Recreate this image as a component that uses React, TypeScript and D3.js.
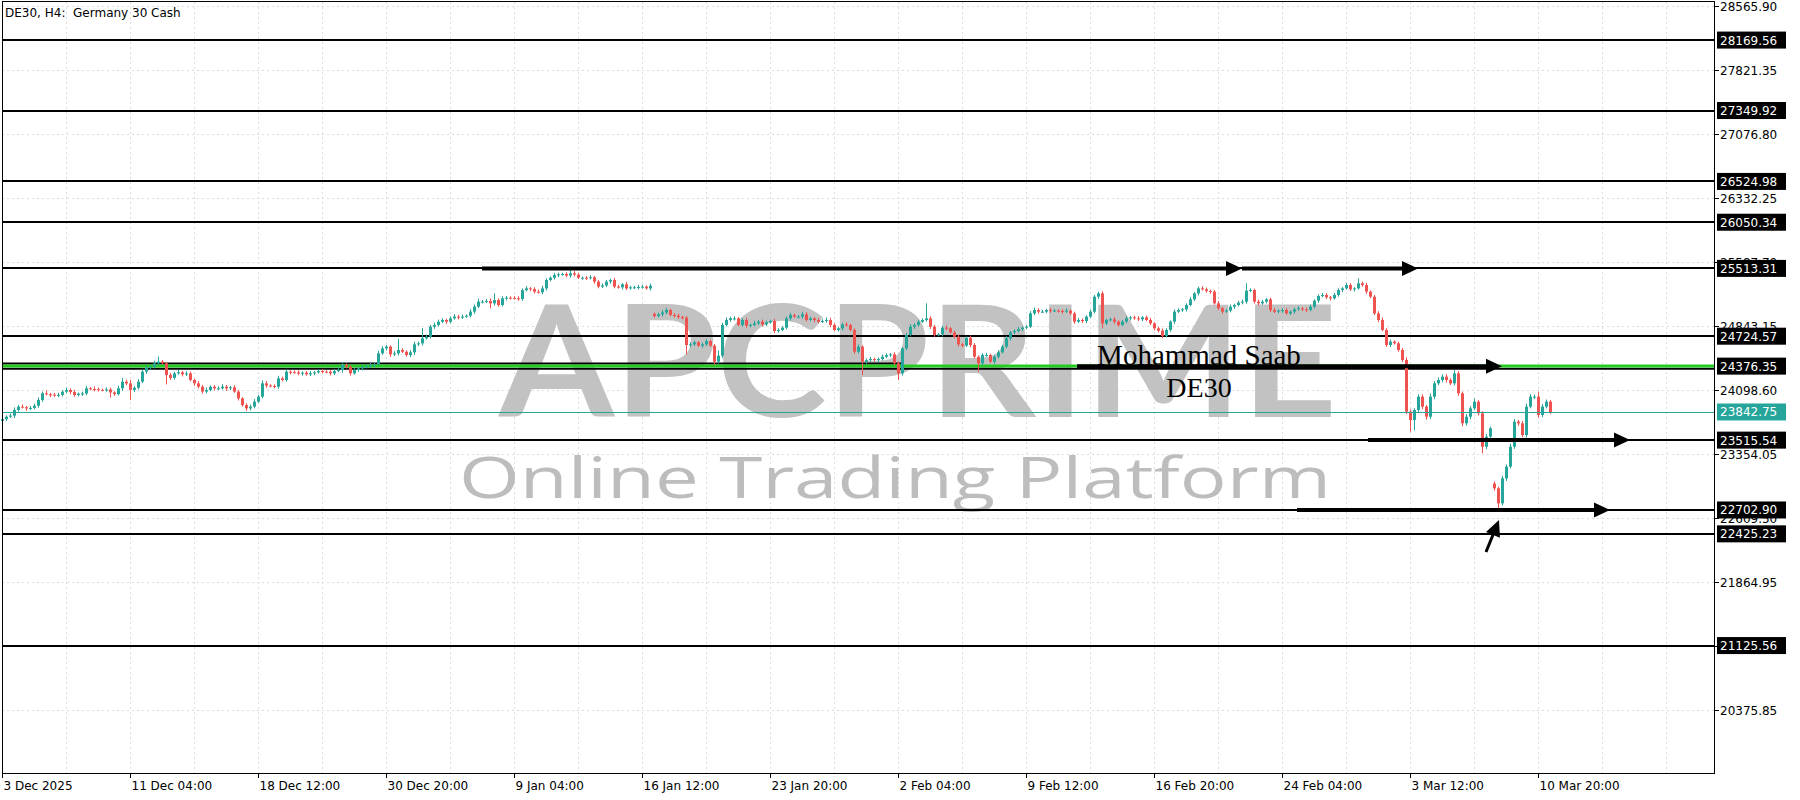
import React, { useEffect, useRef } from 'react'
import * as d3 from 'd3'

// H4 closes, 3 Dec 2025 -> 11 Mar 2026 (one value per bar)
const closesA = [
  23760, 23788, 23800, 23866, 23905, 23898, 23885, 23890, 23916, 23982,
  24060, 24050, 24045, 24040, 24042, 24079, 24098, 24075, 24040, 24055,
  24058, 24118, 24110, 24108, 24100, 24098, 24105, 24070, 24050, 24118,
  24195, 24175, 24100, 24125, 24195, 24312, 24358, 24366, 24409, 24428,
  24410, 24273, 24240, 24292, 24304, 24281, 24292, 24215, 24176, 24137,
  24080, 24098, 24137, 24118, 24118, 24137, 24118, 24130, 24080, 24001,
  23924, 23885, 23905, 23963, 24021, 24176, 24150, 24145, 24137, 24234,
  24215, 24312, 24305, 24304, 24290, 24300, 24281, 24295, 24304, 24319,
  24312, 24310, 24292, 24319, 24331, 24389, 24370, 24292, 24331, 24350,
  24366, 24375, 24389, 24397, 24525, 24583, 24603, 24513, 24525, 24564,
  24544, 24506, 24537, 24630, 24641, 24700, 24719, 24835, 24855, 24893,
  24913, 24893, 24932, 24952, 24945, 24952, 24963, 25010, 25068, 25126,
  25126, 25134, 25107, 25145, 25087, 25165, 25173, 25170, 25165, 25157
]
const closesB = [
  25260, 25281, 25273, 25242, 25235, 25281, 25378, 25405, 25436, 25444,
  25448, 25429, 25456, 25440, 25405, 25405, 25400, 25410, 25359, 25301,
  25315, 25359, 25378, 25301, 25293, 25328, 25281, 25293, 25293, 25297,
  25301, 25281, 25312, 24959, 24979, 25000, 25029, 24971, 24963, 24948,
  24940, 24622, 24630, 24653, 24614, 24630, 24668, 24614, 24428, 24498,
  24855, 24913, 24932, 24932, 24855, 24913, 24847, 24855, 24874, 24893,
  24862, 24886, 24901, 24785, 24797, 24824, 24932, 24971, 24952, 24952,
  24979, 24913, 24932, 24913, 24893, 24901, 24913, 24855, 24797, 24816,
  24862, 24855, 24797, 24544, 24603, 24428, 24447, 24459, 24447, 24459,
  24486, 24506, 24513, 24409, 24292, 24583, 24738, 24835, 24855, 24893,
  24913, 24932, 24835, 24738, 24746, 24824, 24816, 24769, 24719, 24630,
  24614, 24707, 24622, 24486, 24409, 24506, 24506, 24428, 24486, 24537,
  24603, 24700, 24769, 24785, 24808, 24824, 24835, 24990, 25029, 25010
]
const closesC = [
  25010, 25029, 25020, 25022, 25018, 25010, 25022, 24990, 24894, 24913,
  24900, 24952, 25010, 25184, 25223, 24874, 24913, 24921, 24894, 24855,
  24894, 24932, 24944, 24932, 24921, 24944, 24913, 24874, 24816, 24789,
  24727, 24797, 24894, 25010, 25029, 25037, 25087, 25153, 25223, 25281,
  25270, 25250, 25243, 25107, 25049, 25010, 25022, 25068, 25087, 25115,
  25126, 25254, 25262, 25126, 25107, 25126, 25153, 25029, 25010, 25022,
  25029, 24990, 25010, 25037, 25049, 25037, 25029, 25068, 25138, 25192,
  25204, 25177, 25165, 25204, 25262, 25281, 25320, 25270, 25281, 25340,
  25320, 25243, 25184, 24990, 24913, 24797, 24622, 24661, 24642, 24564,
  24448, 23847, 23750, 23866, 24021, 23905, 23788, 24021, 24176, 24215,
  24254, 24215, 24176, 24292, 24060, 23711, 23788, 23885, 23963, 23827,
  23439, 23556, 23653, 22955, 22780, 23071, 23207, 23439, 23730, 23711,
  23575, 23905, 24021, 24021, 23808, 23905, 23963, 23843
]

// upper / lower wick length in points, per bar
const wickUpA = [
  20, 15, 25, 30, 20, 25, 15, 20, 25, 30, 20, 35, 15, 20, 25, 15, 30, 20, 25, 15,
  20, 25, 15, 30, 20, 15, 25, 20, 15, 30, 45, 25, 40, 20, 30, 25, 20, 15, 30, 60,
  20, 15, 25, 20, 30, 15, 25, 20, 15, 25, 20, 30, 15, 20, 25, 30, 20, 15, 25, 20,
  15, 20, 25, 30, 20, 35, 25, 15, 20, 30, 20, 25, 15, 20, 25, 15, 20, 25, 15, 20,
  25, 15, 20, 25, 30, 35, 20, 15, 25, 20, 15, 20, 25, 15, 30, 25, 20, 15, 25, 130,
  20, 15, 25, 30, 20, 120, 25, 20, 30, 25, 20, 15, 25, 30, 20, 25, 15, 30, 25, 35,
  20, 25, 30, 80, 20, 25, 20, 15, 20, 25
]
const wickDnA = [
  40, 20, 15, 25, 20, 15, 30, 20, 15, 25, 20, 15, 30, 20, 25, 20, 15, 25, 20, 15,
  25, 20, 15, 25, 20, 15, 20, 60, 20, 15, 25, 20, 120, 25, 20, 15, 25, 20, 15, 20,
  15, 110, 25, 20, 15, 25, 20, 15, 30, 20, 25, 20, 15, 25, 20, 15, 30, 20, 15, 25,
  20, 30, 25, 20, 15, 20, 25, 15, 20, 25, 15, 20, 25, 15, 20, 25, 15, 20, 25, 15,
  20, 15, 25, 20, 15, 30, 20, 25, 15, 20, 25, 15, 20, 25, 15, 20, 25, 30, 20, 25,
  15, 20, 25, 30, 20, 25, 15, 20, 25, 20, 15, 25, 20, 15, 25, 20, 15, 20, 25, 15,
  20, 15, 60, 25, 20, 15, 25, 20, 15, 20
]
const wickUpB = [
  20, 25, 15, 20, 25, 30, 20, 15, 25, 20, 15, 20, 40, 25, 20, 15, 20, 25, 15, 20,
  25, 20, 15, 25, 20, 15, 30, 20, 15, 25, 20, 15, 25, 15, 20, 30, 25, 15, 20, 25,
  15, 20, 25, 20, 15, 20, 25, 15, 20, 60, 25, 30, 20, 25, 15, 20, 25, 15, 30, 20,
  25, 20, 15, 25, 20, 15, 20, 25, 15, 20, 30, 25, 20, 15, 25, 20, 30, 25, 20, 15,
  20, 25, 15, 20, 25, 15, 20, 25, 15, 20, 25, 20, 15, 25, 20, 15, 25, 30, 20, 25,
  20, 175, 25, 20, 15, 20, 25, 15, 20, 25, 20, 15, 25, 20, 15, 20, 25, 15, 20, 25,
  20, 25, 15, 20, 25, 15, 20, 25, 30, 20
]
const wickDnB = [
  20, 15, 25, 20, 15, 20, 25, 15, 20, 25, 15, 20, 25, 20, 15, 25, 20, 15, 25, 20,
  15, 20, 25, 20, 15, 25, 20, 15, 20, 25, 20, 15, 25, 20, 15, 25, 20, 15, 20, 25,
  20, 110, 25, 20, 15, 25, 20, 15, 40, 20, 25, 15, 20, 25, 15, 20, 25, 20, 15, 20,
  25, 20, 15, 25, 20, 15, 20, 25, 15, 20, 25, 20, 15, 25, 20, 15, 20, 25, 15, 20,
  25, 20, 15, 25, 20, 155, 25, 20, 15, 25, 20, 15, 25, 20, 75, 25, 20, 15, 25, 20,
  15, 20, 25, 20, 15, 25, 20, 15, 20, 25, 20, 15, 25, 20, 97, 25, 20, 15, 25, 20,
  15, 20, 25, 20, 15, 25, 20, 15, 20, 25
]
const wickUpC = [
  20, 15, 25, 20, 15, 20, 25, 15, 20, 25, 20, 15, 25, 20, 20, 25, 15, 20, 25, 15,
  20, 25, 15, 20, 25, 15, 20, 25, 15, 20, 25, 20, 15, 25, 20, 15, 20, 25, 15, 20,
  25, 20, 15, 20, 25, 15, 20, 25, 15, 20, 25, 86, 20, 15, 25, 20, 15, 20, 25, 15,
  20, 25, 15, 20, 25, 15, 20, 25, 15, 20, 25, 20, 15, 25, 20, 15, 25, 20, 15, 58,
  20, 25, 15, 20, 25, 30, 20, 25, 15, 20, 25, 30, 25, 20, 30, 25, 20, 35, 25, 30,
  25, 30, 20, 40, 25, 20, 30, 25, 35, 20, 25, 30, 20, 25, 20, 30, 25, 35, 30, 20,
  25, 35, 30, 25, 60, 30, 25, 20
]
const wickDnC = [
  15, 20, 25, 15, 20, 25, 15, 20, 25, 15, 20, 25, 15, 20, 25, 58, 20, 15, 25, 20,
  15, 20, 25, 15, 20, 25, 15, 20, 25, 20, 27, 15, 20, 25, 15, 20, 25, 15, 20, 25,
  15, 20, 25, 15, 20, 25, 15, 20, 25, 15, 20, 25, 15, 20, 25, 15, 20, 25, 15, 20,
  25, 15, 20, 25, 15, 20, 25, 15, 20, 25, 15, 20, 25, 15, 20, 25, 15, 20, 25, 15,
  20, 25, 15, 20, 25, 15, 20, 25, 15, 20, 25, 30, 136, 120, 25, 30, 35, 25, 30, 20,
  25, 30, 20, 25, 30, 35, 25, 30, 20, 25, 77, 30, 25, 30, 58, 25, 30, 20, 25, 30,
  25, 30, 20, 25, 30, 25, 20, 25
]

const firstOpen = 23740
// bars that opened away from the previous close: [bar, open]
const gapOpens: [number, number][] = [[163, 24985], [373, 23010]]

const priceTicks = ['28565.90', '27821.35', '27076.80', '26332.25', '25587.70', '24843.15',
  '24098.60', '23354.05', '22609.50', '21864.95', '21120.40', '20375.85']
const levelLines = [28169.56, 27349.92, 26524.98, 26050.34, 25513.31, 24724.57,
  24376.35, 23515.54, 22702.90, 22425.23, 21125.56]
const greenLevel = 24376.35
const extraBlack = [{ price: 24345, from: 0, to: 428 }, { price: 24406, from: 0, to: 225 }]
const currentPrice = 23842.75

const timeLabels = ['3 Dec 2025', '11 Dec 04:00', '18 Dec 12:00', '30 Dec 20:00', '9 Jan 04:00',
  '16 Jan 12:00', '23 Jan 20:00', '2 Feb 04:00', '9 Feb 12:00', '16 Feb 20:00',
  '24 Feb 04:00', '3 Mar 12:00', '10 Mar 20:00']
const timeLabelBars = [0, 32, 64, 96, 128, 160, 192, 224, 256, 288, 320, 352, 384]

// drawn arrows: price level, start bar, end bar
const arrows = [
  { price: 25513.31, from: 120, to: 310 },
  { price: 25513.31, from: 310, to: 354 },
  { price: 24376.35, from: 268.75, to: 375 },
  { price: 23515.54, from: 341.5, to: 407 },
  { price: 22702.90, from: 323.75, to: 402 }
]
const pointer = { fromBar: 371, fromPrice: 22214, toBar: 374.25, toPrice: 22586 }

export default function App() {
  const svgRef = useRef<SVGSVGElement | null>(null)

  useEffect(() => {
    if (!svgRef.current) return
    const svg = d3.select(svgRef.current)
    svg.selectAll('*').remove()

    const width = 1800
    const height = 800
    const plotRight = 1714
    const plotBottom = 773
    const mtFont = '"DejaVu Sans", sans-serif'
    const bull = '#26a69a'
    const bear = '#ef5350'

    const closes = [...closesA, ...closesB, ...closesC]
    const wUp = [...wickUpA, ...wickUpB, ...wickUpC]
    const wDn = [...wickDnA, ...wickDnB, ...wickDnC]
    const gaps = new Map(gapOpens)
    const bars = closes.map((c, i) => {
      const o = gaps.get(i) ?? (i === 0 ? firstOpen : closes[i - 1])
      return {
        i, o, c,
        h: Math.max(o, c) + (wUp[i] ?? 20),
        l: Math.min(o, c) - (wDn[i] ?? 20)
      }
    })

    const x = d3.scaleLinear().domain([0, 428]).range([2, plotRight])
    const y = d3.scaleLinear().domain([19631.3, 28565.9]).range([774, 6])

    svg.attr('width', width).attr('height', height)
    svg.append('rect').attr('width', width).attr('height', height).attr('fill', '#fff')

    // grid
    const grid = svg.append('g').attr('stroke', '#dcdcdc').attr('stroke-dasharray', '2,3').attr('stroke-width', 1)
    d3.range(16, 428, 16).forEach(b => {
      grid.append('line').attr('x1', x(b) + 0.5).attr('x2', x(b) + 0.5).attr('y1', 2).attr('y2', plotBottom)
    })
    priceTicks.forEach(t => {
      const yy = Math.round(y(+t)) + 0.5
      grid.append('line').attr('x1', 2).attr('x2', plotRight).attr('y1', yy).attr('y2', yy)
    })

    // watermark
    svg.append('text')
      .attr('x', 499).attr('y', 417)
      .attr('textLength', 838).attr('lengthAdjust', 'spacingAndGlyphs')
      .attr('font-family', 'Lato, "Open Sans", sans-serif').attr('font-weight', 700)
      .attr('font-size', 155).attr('fill', '#c2c2c2')
      .text('APCPRIME')
    svg.append('text')
      .attr('x', 459).attr('y', 498)
      .attr('textLength', 872).attr('lengthAdjust', 'spacingAndGlyphs')
      .attr('font-family', '"Open Sans", sans-serif').attr('font-weight', 400)
      .attr('font-size', 57).attr('fill', '#bdbdbd')
      .text('Online Trading Platform')

    // horizontal levels
    extraBlack.forEach(l => {
      svg.append('line').attr('x1', x(l.from)).attr('x2', x(l.to))
        .attr('y1', y(l.price)).attr('y2', y(l.price)).attr('stroke', '#000').attr('stroke-width', 2)
    })
    levelLines.forEach(p => {
      const isGreen = p === greenLevel
      svg.append('line').attr('x1', 2).attr('x2', plotRight)
        .attr('y1', Math.round(y(p))).attr('y2', Math.round(y(p)))
        .attr('stroke', isGreen ? '#22cc22' : '#000').attr('stroke-width', isGreen ? 3 : 2)
    })

    // candles
    const cg = svg.append('g')
    bars.forEach(b => {
      const cx = Math.round(x(b.i))
      const col = b.c >= b.o ? bull : bear
      cg.append('line').attr('x1', cx + 0.5).attr('x2', cx + 0.5)
        .attr('y1', y(b.h)).attr('y2', y(b.l)).attr('stroke', col).attr('stroke-width', 1)
      const top = y(Math.max(b.o, b.c))
      const h = Math.max(1, y(Math.min(b.o, b.c)) - top)
      cg.append('rect').attr('x', cx - 1).attr('y', top).attr('width', 3).attr('height', h).attr('fill', col)
    })

    // current price line
    const cy = Math.round(y(currentPrice)) + 0.5
    svg.append('line').attr('x1', 2).attr('x2', plotRight).attr('y1', cy).attr('y2', cy)
      .attr('stroke', bull).attr('stroke-width', 1)

    // author text
    svg.append('text').attr('x', 1199).attr('y', 365).attr('text-anchor', 'middle')
      .attr('font-family', '"Liberation Serif", serif').attr('font-size', 29).attr('fill', '#000')
      .text('Mohammad Saab')
    svg.append('text').attr('x', 1199).attr('y', 397).attr('text-anchor', 'middle')
      .attr('font-family', '"Liberation Serif", serif').attr('font-size', 28).attr('fill', '#000')
      .text('DE30')

    // arrows
    const head = (tx: number, ty: number, ang: number) => {
      const len = 16, half = 7.5
      const pts = [[0, 0], [-len, -half], [-len, half]].map(([px, py]) => [
        tx + px * Math.cos(ang) - py * Math.sin(ang),
        ty + px * Math.sin(ang) + py * Math.cos(ang)
      ])
      svg.append('polygon').attr('points', pts.map(p => p.join(',')).join(' ')).attr('fill', '#000')
    }
    arrows.forEach(a => {
      const yy = y(a.price)
      svg.append('line').attr('x1', x(a.from)).attr('x2', x(a.to) - 12)
        .attr('y1', yy).attr('y2', yy).attr('stroke', '#000').attr('stroke-width', 4)
      head(x(a.to), yy, 0)
    })
    {
      const x1 = x(pointer.fromBar), y1 = y(pointer.fromPrice)
      const x2 = x(pointer.toBar), y2 = y(pointer.toPrice)
      const ang = Math.atan2(y2 - y1, x2 - x1)
      svg.append('line').attr('x1', x1).attr('y1', y1)
        .attr('x2', x2 - 10 * Math.cos(ang)).attr('y2', y2 - 10 * Math.sin(ang))
        .attr('stroke', '#000').attr('stroke-width', 3)
      head(x2, y2, ang)
    }

    // frame
    svg.append('rect').attr('x', 2.5).attr('y', 1.5).attr('width', plotRight - 2).attr('height', plotBottom - 1)
      .attr('fill', 'none').attr('stroke', '#000').attr('stroke-width', 1)

    // right price axis
    const ax = svg.append('g').attr('font-family', mtFont).attr('font-size', 12)
    priceTicks.forEach(t => {
      const yy = Math.round(y(+t)) + 0.5
      ax.append('line').attr('x1', plotRight).attr('x2', plotRight + 5).attr('y1', yy).attr('y2', yy).attr('stroke', '#000')
      ax.append('text').attr('x', plotRight + 6).attr('y', yy + 4.5).attr('fill', '#000').text(t)
    })
    const boxes = [...levelLines.map(p => ({ p, fill: '#000' })), { p: currentPrice, fill: bull }]
    boxes.forEach(b => {
      const yy = y(b.p)
      ax.append('rect').attr('x', plotRight + 3).attr('y', yy - 8.5).attr('width', 69).attr('height', 17).attr('fill', b.fill)
      ax.append('text').attr('x', plotRight + 6).attr('y', yy + 4.5).attr('fill', '#fff').text(b.p.toFixed(2))
    })

    // bottom time axis
    timeLabels.forEach((t, k) => {
      const xx = Math.round(x(timeLabelBars[k])) + 0.5
      ax.append('line').attr('x1', xx).attr('x2', xx).attr('y1', plotBottom).attr('y2', plotBottom + 5).attr('stroke', '#000')
      ax.append('text').attr('x', xx + 1).attr('y', plotBottom + 17).attr('fill', '#000').text(t)
    })

    // title
    svg.append('text').attr('x', 5).attr('y', 17).attr('font-family', mtFont).attr('font-size', 12)
      .attr('fill', '#000').attr('xml:space', 'preserve').text('DE30, H4:  Germany 30 Cash')
  }, [])

  return (
    <svg ref={svgRef} width={1800} height={800} style={{ position: 'absolute', left: 0, top: 0 }}></svg>
  )
}
